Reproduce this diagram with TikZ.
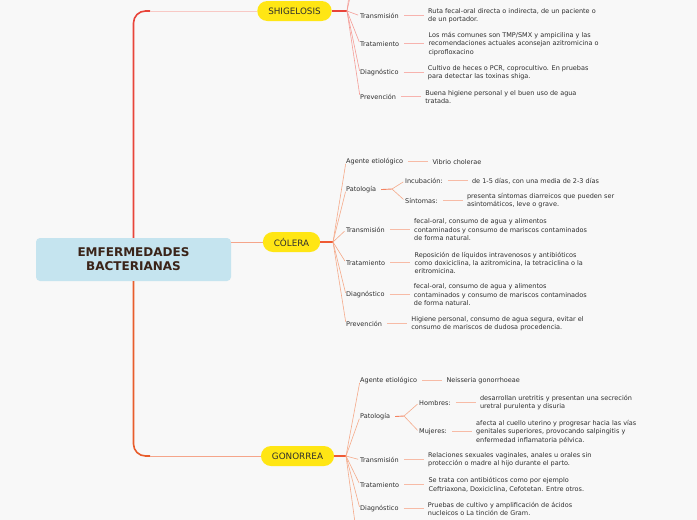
\documentclass[tikz,border=0pt]{standalone}
\usepackage{fontspec}
\setmainfont{DejaVu Sans}
\usetikzlibrary{positioning}
\definecolor{mmBg}     {HTML}{F8F8F8}
\definecolor{mmInk}    {HTML}{2E2E2E}
\definecolor{mmRootInk}{HTML}{3A2318}
\definecolor{mmRoot}   {HTML}{C5E4EF}
\definecolor{mmYellow} {HTML}{FFE614}
\definecolor{mmRed}    {HTML}{E8443A}
\definecolor{mmOrange} {HTML}{E85D2C}
\definecolor{mmPink}   {HTML}{F8C9C5}
\definecolor{mmSalmon} {HTML}{F5A58A}
\definecolor{mmRose}   {HTML}{F59C96}
\definecolor{mmRoseL}  {HTML}{F7B3AE}
\definecolor{mmPeach}  {HTML}{F5AA8A}
\definecolor{mmPeachL} {HTML}{F7BBA6}
\definecolor{mmStub}   {HTML}{EF5A34}
\definecolor{mmStubL}  {HTML}{F48462}

\tikzset{
  root/.style={fill=mmRoot,rounded corners=4pt,minimum width=195pt,minimum height=43pt,
    align=center,inner sep=0,text=mmRootInk,font=\fontsize{12}{14}\selectfont\bfseries},
  topic/.style={fill=mmYellow,rounded corners=10pt,minimum height=20pt,inner xsep=11pt,
    inner ysep=0,text=mmInk,font=\fontsize{8.8}{10}\selectfont},
  lbl/.style={anchor=west,inner sep=0,yshift=-0.8pt,text=mmInk,font=\fontsize{6.5}{8.3}\selectfont},
  det/.style={anchor=west,inner sep=0,text=mmInk,font=\fontsize{6.5}{8.3}\selectfont,
    align=left,right=29pt of #1},
  trunk/.style={draw=#1,line width=1.6pt,rounded corners=12pt},
  link/.style={draw=#1,line width=0.8pt},
  stub/.style={draw=#1,line width=1.2pt},
  ray/.style={draw=#1,line width=0.6pt,shorten >=2pt},
  conn/.style={draw=#1,line width=0.8pt,shorten <=5pt,shorten >=4pt}
}

\begin{document}
\begin{tikzpicture}[x=1pt,y=-1pt]
  \useasboundingbox[fill=mmBg] (0,0) rectangle (697,520);
  \clip (0,0) rectangle (697,520);

  % centre and topics
  \node[root] (ctr) at (133.5,259.5) {EMFERMEDADES\\BACTERIANAS};
  \node[topic] (shig) at (294.5,11) {SHIGELOSIS};
  \node[topic] (col) at (291.5,242) {CÓLERA};
  \node[topic] (gon) at (297.5,456) {GONORREA};

  \coordinate (sj) at (150,11);
  \coordinate (gj) at (150,456);
  \draw[trunk=mmRed] (ctr.north) |- (sj);
  \draw[trunk=mmOrange] (ctr.south) |- (gj);
  \draw[link=mmPink] (sj) -- (shig.west);
  \draw[link=mmSalmon] (gj) -- (gon.west);
  \draw[link=mmSalmon] (ctr.east |- col.west) -- (col.west);

  % SHIGELOSIS
  \coordinate (sb) at (347,11);
  \coordinate (sUp1) at (351,-20);
  \coordinate (sUp2) at (356,-30);
  \draw[stub=mmRed] (shig.east) -- (sb);
  \node[lbl] (sT) at (360,15) {Transmisión};
  \node[lbl] (sR) at (360,43) {Tratamiento};
  \node[lbl] (sD) at (360,72) {Diagnóstico};
  \node[lbl] (sP) at (360,96) {Prevención};
  \node[det=sT] (sT-d) {Ruta fecal-oral directa o indirecta, de un paciente o\\de un portador.};
  \node[det=sR] (sR-d) {Los más comunes son TMP/SMX y ampicilina y las\\recomendaciones actuales aconsejan azitromicina o\\ciprofloxacino};
  \node[det=sD] (sD-d) {Cultivo de heces o PCR, coprocultivo. En pruebas\\para detectar las toxinas shiga.};
  \node[det=sP] (sP-d) {Buena higiene personal y el buen uso de agua\\tratada.};
  \foreach \n in {sT,sR,sD,sP} {
    \draw[ray=mmRose] (sb) -- (\n.west);
    \draw[conn=mmRoseL] (\n.east) -- (\n-d.west);
  }
  \draw[ray=mmRose] (sb) -- (sUp1);
  \draw[ray=mmRose] (sb) -- (sUp2);

  % CÓLERA
  \coordinate (cb) at (333,242);
  \draw[stub=mmStub] (col.east) -- (cb);
  \node[lbl] (cA) at (346,161) {Agente etiológico};
  \node[lbl] (cG) at (346,189) {Patología};
  \node[lbl] (cT) at (346,229) {Transmisión};
  \node[lbl] (cR) at (346,262) {Tratamiento};
  \node[lbl] (cD) at (346,294) {Diagnóstico};
  \node[lbl] (cP) at (346,323) {Prevención};
  \node[det=cA] (cA-d) {Vibrio cholerae};
  \node[det=cT] (cT-d) {fecal-oral, consumo de agua y alimentos\\contaminados y consumo de mariscos contaminados\\de forma natural.};
  \node[det=cR] (cR-d) {Reposición de líquidos intravenosos y antibióticos\\como doxiciclina, la azitromicina, la tetraciclina o la\\eritromicina.};
  \node[det=cD] (cD-d) {fecal-oral, consumo de agua y alimentos\\contaminados y consumo de mariscos contaminados\\de forma natural.};
  \node[det=cP] (cP-d) {Higiene personal, consumo de agua segura, evitar el\\consumo de mariscos de dudosa procedencia.};
  \foreach \n in {cA,cG,cT,cR,cD,cP}
    \draw[ray=mmPeach] (cb) -- (\n.west);
  \foreach \n in {cA,cT,cR,cD,cP}
    \draw[conn=mmPeachL] (\n.east) -- (\n-d.west);

  % patologia colera
  \coordinate (cgb) at (392,189);
  \draw[stub=mmStubL,line width=0.9pt,shorten <=5pt] (cG.east) -- (cgb);
  \node[lbl] (cI) at (405,180) {Incubación:};
  \node[lbl] (cS) at (405,200) {Síntomas:};
  \node[det=cI] (cI-d) {de 1-5 días, con una media de 2-3 días};
  \node[det=cS] (cS-d) {presenta síntomas diarreicos que pueden ser\\asintomáticos, leve o grave.};
  \foreach \n in {cI,cS} {
    \draw[ray=mmPeach] (cgb) -- (\n.west);
    \draw[conn=mmPeachL] (\n.east) -- (\n-d.west);
  }

  % GONORREA
  \coordinate (gb) at (346,456);
  \coordinate (gDn) at (358,545);
  \draw[stub=mmStub] (gon.east) -- (gb);
  \node[lbl] (gA) at (360,380) {Agente etiológico};
  \node[lbl] (gG) at (360,416) {Patología};
  \node[lbl] (gT) at (360,459) {Transmisión};
  \node[lbl] (gR) at (360,484) {Tratamiento};
  \node[lbl] (gD) at (360,508) {Diagnóstico};
  \node[det=gA] (gA-d) {Neisseria gonorrhoeae};
  \node[det=gT] (gT-d) {Relaciones sexuales vaginales, anales u orales sin\\protección o madre al hijo durante el parto.};
  \node[det=gR] (gR-d) {Se trata con antibióticos como por ejemplo\\Ceftriaxona, Doxiciclina, Cefotetan. Entre otros.};
  \node[det=gD] (gD-d) {Pruebas de cultivo y amplificación de ácidos\\nucleicos o La tinción de Gram.};
  \foreach \n in {gA,gG,gT,gR,gD}
    \draw[ray=mmPeach] (gb) -- (\n.west);
  \foreach \n in {gA,gT,gR,gD}
    \draw[conn=mmPeachL] (\n.east) -- (\n-d.west);
  \draw[ray=mmPeach] (gb) -- (gDn);

  % patologia gonorrea
  \coordinate (ggb) at (404,416);
  \draw[stub=mmStubL,line width=0.9pt,shorten <=5pt] (gG.east) -- (ggb);
  \node[lbl] (gH) at (419,402) {Hombres:};
  \node[lbl] (gM) at (419,431) {Mujeres:};
  \node[det=gH] (gH-d) {desarrollan uretritis y presentan una secreción\\uretral purulenta y disuria};
  \node[det=gM] (gM-d) {afecta al cuello uterino y progresar hacia las vías\\genitales superiores, provocando salpingitis y\\enfermedad inflamatoria pélvica.};
  \foreach \n in {gH,gM} {
    \draw[ray=mmPeach] (ggb) -- (\n.west);
    \draw[conn=mmPeachL] (\n.east) -- (\n-d.west);
  }
\end{tikzpicture}
\end{document}
